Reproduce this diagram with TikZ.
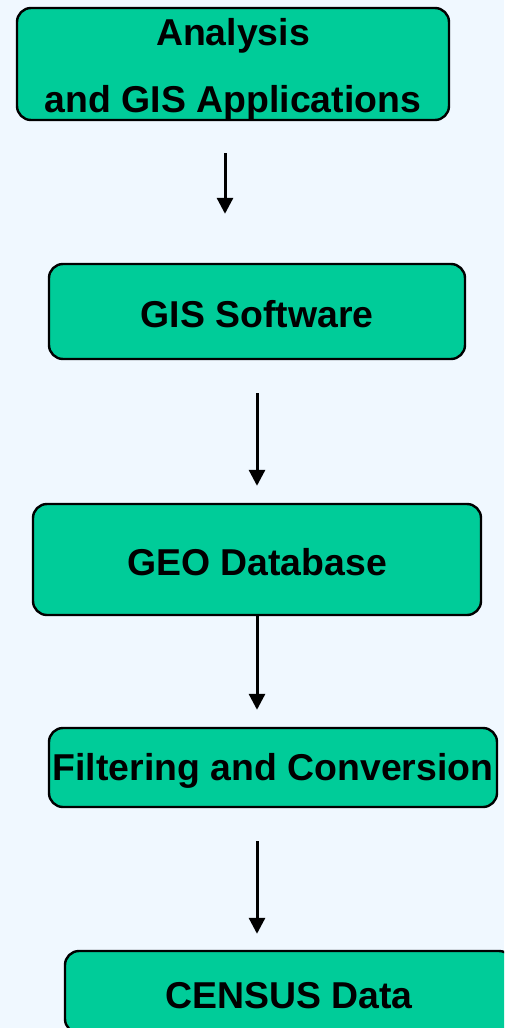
\documentclass[tikz,border=0pt]{standalone}
\usepackage{fontspec}
\setmainfont{Liberation Sans}
\usetikzlibrary{arrows.meta}
\definecolor{bgblue}{HTML}{F0F8FF}
\definecolor{boxgreen}{HTML}{00CC99}
\begin{document}
\begin{tikzpicture}[x=1pt,y=-1pt,line join=round,box/.style={draw,line width=2.4pt,fill=boxgreen,rounded corners=14pt,font=\fontsize{37.4}{67}\selectfont\bfseries,align=center,inner sep=0pt,execute at begin node={\rule{0pt}{33pt}}},flow/.style={line width=3pt,-{Triangle[length=16pt,width=16pt]}}]
	\useasboundingbox (0,0) rectangle (504,1028);
	\clip (0,0) rectangle (504,1028);
	\fill[bgblue] (0,0) rectangle (504,1028);
	\node[box,minimum width=432pt,minimum height=112pt,execute at begin node={}] (apps) at (233,64) {\rule{0pt}{37pt}Analysis\\and GIS Applications};
	\node[box,minimum width=416pt,minimum height=95pt] (soft) at (257,311.5) {GIS Software};
	\node[box,minimum width=448pt,minimum height=111pt] (geodb) at (257,559.5) {GEO Database};
	\node[box,minimum width=448pt,minimum height=79pt] (filter) at (273,767.5) {Filtering and Conversion};
	\node[box,minimum width=448pt,minimum height=82pt] (census) at (289,992) {CENSUS Data};
	% arrows between the stages
	\draw[flow,shorten <=32pt,shorten >=49pt] ([xshift=-8pt]apps.south) -- ([xshift=-8pt]apps.south |- soft.north);
	\draw[flow,shorten <=33pt,shorten >=17pt] (soft.south) -- (geodb.north);
	\draw[flow,shorten >=17pt] (geodb.south) -- (filter.north -| geodb);
	\draw[flow,shorten <=33pt,shorten >=16pt] (filter.south -| geodb) -- (census.north -| geodb);
\end{tikzpicture}
\end{document}
